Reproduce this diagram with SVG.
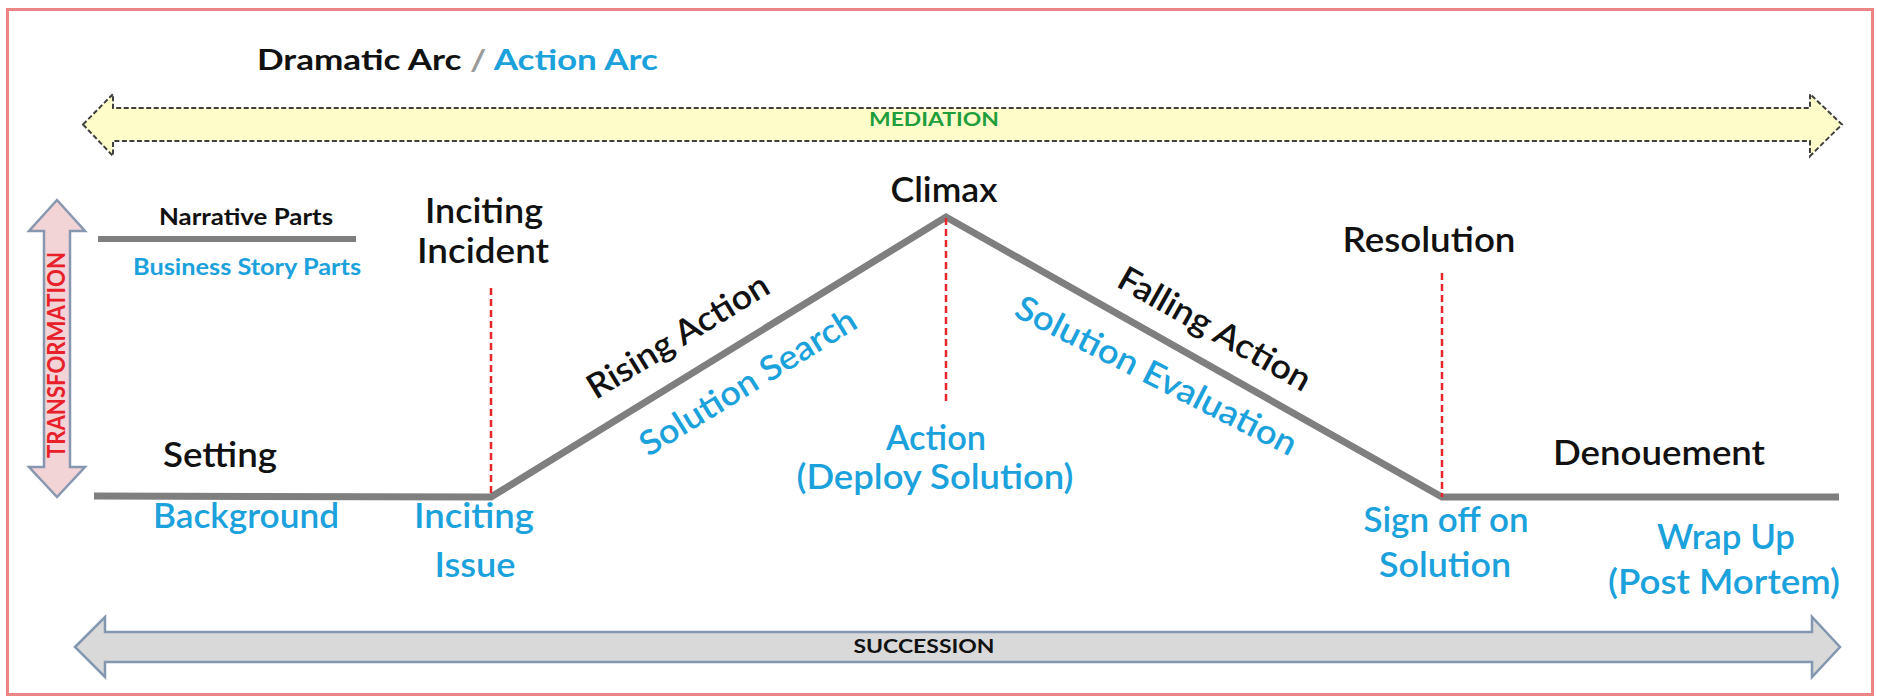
<svg xmlns="http://www.w3.org/2000/svg" width="1877" height="699" viewBox="0 0 1877 699">
<style>
  text { font-family: Lato, "Liberation Sans", sans-serif; }
  .big { font-size: 34px; font-weight: 600; }
  .blk { fill: #111111; }
  .blu { fill: #1ba1dc; }
  .small { font-size: 22px; font-weight: 700; }
  .cap { font-size: 18px; font-weight: 700; }
  .arc { fill: none; stroke: #7f7f7f; stroke-width: 7; stroke-linejoin: miter; }
  .mark { fill: none; stroke: #e8262a; stroke-width: 2.5; stroke-dasharray: 7 4; }
</style>
<rect x="0" y="0" width="1877" height="699" fill="#ffffff"/>
<rect id="frame" x="7.5" y="9.5" width="1865" height="685" fill="none" stroke="#ec8585" stroke-width="3"/>

<g id="title">
  <text x="257" y="70" font-size="29" font-weight="700" textLength="401" lengthAdjust="spacingAndGlyphs"><tspan fill="#111111">Dramatic Arc </tspan><tspan fill="#9a9a9a">/ </tspan><tspan fill="#1ba1dc">Action Arc</tspan></text>
</g>

<g id="connectors">
  <polygon id="mediation-arrow" points="83,124.5 113,94 113,108 1810,108 1810,94 1842,124.5 1810,156 1810,141 113,141 113,156" fill="#fefcc9" stroke="#3f3f3f" stroke-width="2" stroke-dasharray="5 2.5"/>
  <polygon id="succession-arrow" points="75,647 105,617 105,632 1812,632 1812,617 1840,647 1812,677 1812,662 105,662 105,677" fill="#d9d9d9" stroke="#8497b0" stroke-width="2.5"/>
  <polygon id="transformation-arrow" points="57,200 85,231 70,231 70,467 85,467 57,497 29,467 44,467 44,231 29,231" fill="#f2d3d6" stroke="#8797b0" stroke-width="2.5"/>
  <line id="legend-line" x1="98" y1="239" x2="356" y2="239" stroke="#7f7f7f" stroke-width="6"/>
  <polyline id="arc-line" class="arc" points="94,496 491,497 946,217 1442,497 1839,497"/>
  <line id="inciting-mark" class="mark" x1="491" y1="288" x2="491" y2="497"/>
  <line id="climax-mark" class="mark" x1="946" y1="218" x2="946" y2="403"/>
  <line id="resolution-mark" class="mark" x1="1442" y1="273" x2="1442" y2="497"/>
</g>

<g id="mediation-label">
  <text x="934" y="126" class="cap" fill="#1f9e3c" text-anchor="middle" textLength="130" lengthAdjust="spacingAndGlyphs">MEDIATION</text>
</g>
<g id="succession-label">
  <text x="924" y="653" class="cap" fill="#111111" text-anchor="middle" textLength="141" lengthAdjust="spacingAndGlyphs">SUCCESSION</text>
</g>
<g id="transformation-label">
  <text transform="translate(65,355) rotate(-90)" font-size="24" font-weight="700" fill="#e8202a" text-anchor="middle" textLength="206" lengthAdjust="spacingAndGlyphs">TRANSFORMATION</text>
</g>

<g id="legend">
  <text x="159" y="225" class="small blk" textLength="174" lengthAdjust="spacingAndGlyphs">Narrative Parts</text>
  <text x="133" y="275" class="small blu" textLength="228" lengthAdjust="spacingAndGlyphs">Business Story Parts</text>
</g>

<g id="setting">
  <text x="220" y="467" class="big blk" text-anchor="middle" textLength="114" lengthAdjust="spacingAndGlyphs">Setting</text>
  <text x="246" y="528" class="big blu" text-anchor="middle" textLength="186" lengthAdjust="spacingAndGlyphs">Background</text>
</g>

<g id="inciting-incident">
  <text x="484" y="223" class="big blk" text-anchor="middle" textLength="118" lengthAdjust="spacingAndGlyphs">Inciting</text>
  <text x="483" y="263" class="big blk" text-anchor="middle" textLength="132" lengthAdjust="spacingAndGlyphs">Incident</text>
  <text x="474" y="528" class="big blu" text-anchor="middle" textLength="120" lengthAdjust="spacingAndGlyphs">Inciting</text>
  <text x="475" y="577" class="big blu" text-anchor="middle" textLength="81" lengthAdjust="spacingAndGlyphs">Issue</text>
</g>

<g id="rising-action">
  <text transform="translate(684,346) rotate(-31.5)" class="big blk" text-anchor="middle" textLength="207" lengthAdjust="spacingAndGlyphs">Rising Action</text>
  <text transform="translate(754,392) rotate(-31.7)" class="big blu" text-anchor="middle" textLength="248" lengthAdjust="spacingAndGlyphs">Solution Search</text>
</g>

<g id="climax">
  <text x="944" y="202" class="big blk" text-anchor="middle" textLength="107" lengthAdjust="spacingAndGlyphs">Climax</text>
  <text x="936" y="450" class="big blu" text-anchor="middle" textLength="100" lengthAdjust="spacingAndGlyphs">Action</text>
  <text x="935" y="489" class="big blu" text-anchor="middle" textLength="277" lengthAdjust="spacingAndGlyphs">(Deploy Solution)</text>
</g>

<g id="falling-action">
  <text transform="translate(1209,339) rotate(29.5)" class="big blk" text-anchor="middle" textLength="216" lengthAdjust="spacingAndGlyphs">Falling Action</text>
  <text transform="translate(1151,386) rotate(27)" class="big blu" text-anchor="middle" textLength="311" lengthAdjust="spacingAndGlyphs">Solution Evaluation</text>
</g>

<g id="resolution">
  <text x="1429" y="252" class="big blk" text-anchor="middle" textLength="173" lengthAdjust="spacingAndGlyphs">Resolution</text>
  <text x="1446" y="532" class="big blu" text-anchor="middle" textLength="165" lengthAdjust="spacingAndGlyphs">Sign off on</text>
  <text x="1445" y="577" class="big blu" text-anchor="middle" textLength="132" lengthAdjust="spacingAndGlyphs">Solution</text>
</g>

<g id="denouement">
  <text x="1659" y="465" class="big blk" text-anchor="middle" textLength="212" lengthAdjust="spacingAndGlyphs">Denouement</text>
  <text x="1726" y="549" class="big blu" text-anchor="middle" textLength="138" lengthAdjust="spacingAndGlyphs">Wrap Up</text>
  <text x="1724" y="594" class="big blu" text-anchor="middle" textLength="232" lengthAdjust="spacingAndGlyphs">(Post Mortem)</text>
</g>
</svg>
